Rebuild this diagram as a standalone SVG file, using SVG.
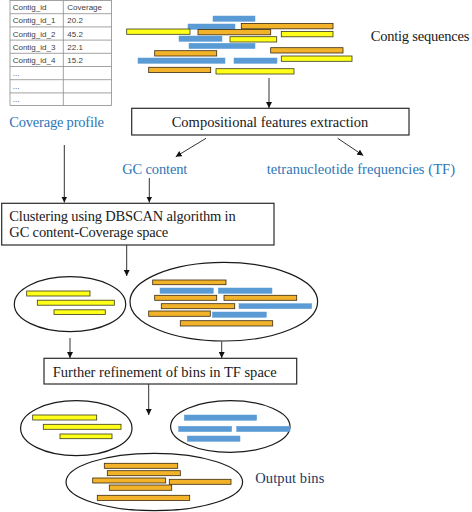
<svg xmlns="http://www.w3.org/2000/svg" width="472" height="512" viewBox="0 0 472 512">
<style>
.y{fill:#ffff1a;stroke:#3a3a1a;stroke-width:0.8}
.o{fill:#f2b32a;stroke:#3a2a10;stroke-width:0.8}
.b{fill:#5b9bd5;stroke:#5b9bd5;stroke-width:0.5}
.ell{fill:#fff;stroke:#1a1a1a;stroke-width:1.2}
.box{fill:#fff;stroke:#2a2a2a;stroke-width:1.2}
.t{font-family:"Liberation Serif","Times New Roman",serif;font-size:14.5px;fill:#1a1a1a}
.blue{fill:#2e75b6}
.navy{fill:#203864}
.tb{font-family:"Liberation Sans",Arial,sans-serif;font-size:8px;fill:#404040}
.grid{stroke:#8c8c8c;stroke-width:0.8;fill:none}
.c{stroke:#333;stroke-width:1;fill:none;marker-end:url(#ah)}
</style>
<defs>
<marker id="ah" markerUnits="userSpaceOnUse" markerWidth="6" markerHeight="6" refX="6" refY="3" orient="auto">
<path d="M0,0 L6,3 L0,6 z" fill="#111"/>
</marker>
</defs>
<rect width="472" height="512" fill="#fff"/>

<g id="coverage-table">
<rect class="grid" x="10" y="0.5" width="101.5" height="105"/>
<line class="grid" x1="63.3" y1="0.5" x2="63.3" y2="105.5"/>
<line class="grid" x1="10" y1="13.7" x2="111.5" y2="13.7"/>
<line class="grid" x1="10" y1="26.9" x2="111.5" y2="26.9"/>
<line class="grid" x1="10" y1="40.1" x2="111.5" y2="40.1"/>
<line class="grid" x1="10" y1="53.3" x2="111.5" y2="53.3"/>
<line class="grid" x1="10" y1="66.5" x2="111.5" y2="66.5"/>
<line class="grid" x1="10" y1="79.7" x2="111.5" y2="79.7"/>
<line class="grid" x1="10" y1="92.9" x2="111.5" y2="92.9"/>
<text class="tb" x="12.7" y="10">Contig_id</text>
<text class="tb" x="67.3" y="10">Coverage</text>
<text class="tb" x="12.7" y="23.3">Contig_id_1</text>
<text class="tb" x="67.3" y="23.3">20.2</text>
<text class="tb" x="12.7" y="36.5">Contig_id_2</text>
<text class="tb" x="67.3" y="36.5">45.2</text>
<text class="tb" x="12.7" y="49.7">Contig_id_3</text>
<text class="tb" x="67.3" y="49.7">22.1</text>
<text class="tb" x="12.7" y="62.9">Contig_id_4</text>
<text class="tb" x="67.3" y="62.9">15.2</text>
<text class="tb" x="12.7" y="75.5">...</text>
<text class="tb" x="12.7" y="88.7">...</text>
<text class="tb" x="12.7" y="101.9">...</text>
</g>

<g id="coverage-profile">
<text class="t blue" x="9.3" y="126.5" textLength="94.7">Coverage profile</text>
</g>

<g id="contig-sequences">
<rect class="b" x="213" y="16" width="42" height="5.3"/>
<rect class="b" x="188" y="24" width="47" height="5.3"/>
<rect class="b" x="179" y="36" width="43" height="5.3"/>
<rect class="b" x="189" y="43.3" width="66" height="5.3"/>
<rect class="b" x="138" y="58" width="87" height="5.3"/>
<rect class="b" x="234" y="58" width="43" height="5.3"/>
<rect class="o" x="241.3" y="23.5" width="91.7" height="5.3"/>
<rect class="o" x="198" y="29.5" width="72.7" height="5.3"/>
<rect class="o" x="154.7" y="50.7" width="62" height="5.3"/>
<rect class="o" x="270.7" y="47.7" width="72.3" height="5.3"/>
<rect class="o" x="148.7" y="67.3" width="62" height="5.3"/>
<rect class="y" x="126.7" y="29" width="63.3" height="5.3"/>
<rect class="y" x="281.3" y="31.5" width="51.7" height="5.3"/>
<rect class="y" x="230" y="36.7" width="46.7" height="5.3"/>
<rect class="y" x="281.3" y="56" width="70.7" height="5.3"/>
<rect class="y" x="216" y="68.7" width="78" height="5.3"/>
<text class="t" x="370.7" y="40.5" textLength="98.6">Contig sequences</text>
</g>

<g id="feature-extraction">
<rect class="box" x="131.7" y="108.3" width="277.3" height="26.7"/>
<text class="t" x="171.7" y="126.5" textLength="196.6">Compositional features extraction</text>
</g>

<g id="gc-content">
<text class="t blue" x="122.3" y="174" textLength="65">GC content</text>
</g>

<g id="tf">
<text class="t blue" x="266.7" y="174" textLength="188.3">tetranucleotide frequencies (TF)</text>
</g>

<g id="dbscan-clustering">
<rect class="box" x="1.7" y="203.3" width="272.3" height="41.7"/>
<text class="t" x="9.3" y="221" textLength="226.4">Clustering using DBSCAN algorithm in</text>
<text class="t" x="9.3" y="236.5" textLength="159">GC content-Coverage space</text>
</g>

<g id="cluster-1">
<ellipse class="ell" cx="70" cy="304.2" rx="55.7" ry="27.5"/>
<rect class="y" x="26.7" y="291" width="63.3" height="5"/>
<rect class="y" x="37.3" y="300.2" width="77" height="5"/>
<rect class="y" x="54" y="309.8" width="51.3" height="4.6"/>
</g>

<g id="cluster-2">
<ellipse class="ell" cx="223.8" cy="301.7" rx="93.8" ry="39.3"/>
<rect class="o" x="152.7" y="280" width="73.3" height="4.7"/>
<rect class="b" x="160" y="288" width="53.3" height="5.3"/>
<rect class="b" x="218.3" y="288" width="53.7" height="5.3"/>
<rect class="o" x="154.7" y="295.3" width="62" height="5"/>
<rect class="o" x="224" y="295.3" width="72.7" height="5"/>
<rect class="o" x="161.3" y="303.7" width="73.4" height="5"/>
<rect class="b" x="239" y="303.7" width="72.7" height="5"/>
<rect class="o" x="148.7" y="311" width="61.6" height="5.3"/>
<rect class="b" x="212.3" y="312" width="54" height="5.3"/>
<rect class="o" x="180.3" y="320.7" width="92.4" height="5.3"/>
</g>

<g id="tf-refinement">
<rect class="box" x="44" y="358.3" width="252.7" height="25.7"/>
<text class="t" x="52.7" y="376.7" textLength="224">Further refinement of bins in TF space</text>
</g>

<g id="bin-1">
<ellipse class="ell" cx="76.3" cy="428.2" rx="55.7" ry="27.5"/>
<rect class="y" x="32.7" y="415" width="64" height="5"/>
<rect class="y" x="43.3" y="424.3" width="77.7" height="5"/>
<rect class="y" x="60" y="434" width="52" height="4.7"/>
</g>

<g id="bin-2">
<ellipse class="ell" cx="230.3" cy="426.5" rx="59.7" ry="25.8"/>
<rect class="b" x="184.3" y="415" width="72.4" height="5.3"/>
<rect class="b" x="178.7" y="426.3" width="53" height="5.3"/>
<rect class="b" x="236.7" y="426.3" width="53.3" height="5.3"/>
<rect class="b" x="187.3" y="436" width="52.7" height="5.3"/>
</g>

<g id="bin-3">
<ellipse class="ell" cx="154.3" cy="482" rx="88.3" ry="28.7"/>
<rect class="o" x="104.3" y="463.3" width="73.4" height="5"/>
<rect class="o" x="107.3" y="470.7" width="73" height="5"/>
<rect class="o" x="92.7" y="478" width="73" height="5"/>
<rect class="o" x="169.3" y="479.3" width="61.7" height="5"/>
<rect class="o" x="109.3" y="485" width="62.4" height="5.3"/>
<rect class="o" x="97.3" y="495.3" width="92.4" height="5.3"/>
</g>

<g id="output-bins-label">
<text class="t navy" x="255.3" y="482.5" textLength="69">Output bins</text>
</g>

<g id="connectors">
<line class="c" x1="269" y1="78" x2="269" y2="108"/>
<line class="c" x1="64.3" y1="145" x2="64.3" y2="202.5"/>
<line class="c" x1="149.3" y1="178" x2="149.3" y2="202.5"/>
<line class="c" x1="206" y1="138.3" x2="175.7" y2="156.7"/>
<line class="c" x1="337.7" y1="138.3" x2="363.3" y2="155.5"/>
<line class="c" x1="126.7" y1="245" x2="126.7" y2="276"/>
<line class="c" x1="70" y1="338" x2="70" y2="358"/>
<line class="c" x1="221.7" y1="341.5" x2="221.7" y2="358"/>
<line class="c" x1="148.7" y1="384" x2="148.7" y2="415"/>
</g>
</svg>
